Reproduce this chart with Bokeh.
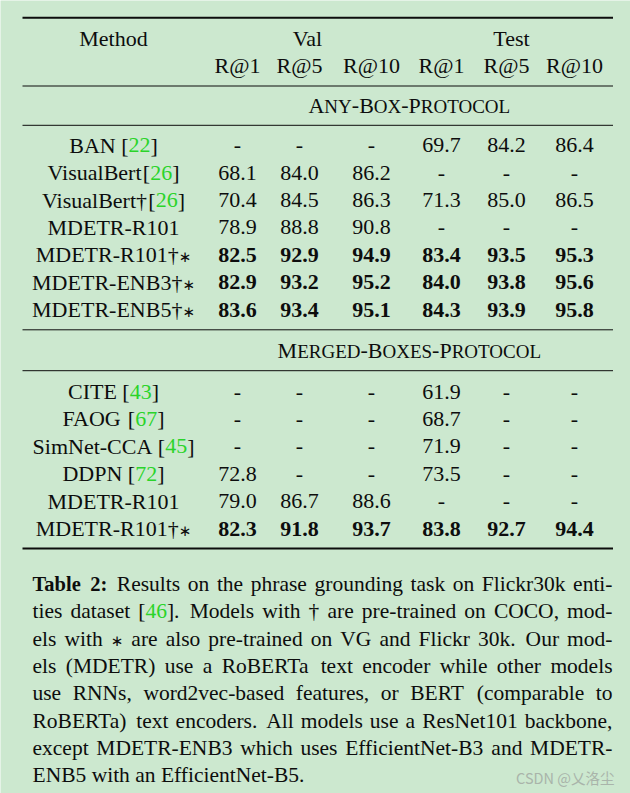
import re
from bokeh.plotting import figure
from bokeh.models import Range1d, ColumnDataSource
from bokeh.core.properties import value
from bokeh.embed import file_html
from bokeh.resources import INLINE

# ------------------------------------------------------------------ data
group_labels = ["Val", "Test"]
metric_labels = ["R@1", "R@5", "R@10", "R@1", "R@5", "R@10"]
section_titles = ["Any-Box-Protocol", "Merged-Boxes-Protocol"]

any_methods = ["BAN [22]", "VisualBert[26]", "VisualBert†[26]", "MDETR-R101",
               "MDETR-R101†∗", "MDETR-ENB3†∗", "MDETR-ENB5†∗"]
any_val_r1 = [None, 68.1, 70.4, 78.9, 82.5, 82.9, 83.6]
any_val_r5 = [None, 84.0, 84.5, 88.8, 92.9, 93.2, 93.4]
any_val_r10 = [None, 86.2, 86.3, 90.8, 94.9, 95.2, 95.1]
any_test_r1 = [69.7, None, 71.3, None, 83.4, 84.0, 84.3]
any_test_r5 = [84.2, None, 85.0, None, 93.5, 93.8, 93.9]
any_test_r10 = [86.4, None, 86.5, None, 95.3, 95.6, 95.8]
any_bold = [False, False, False, False, True, True, True]

merged_methods = ["CITE [43]", "FAOG [67]", "SimNet-CCA [45]", "DDPN [72]",
                  "MDETR-R101", "MDETR-R101†∗"]
merged_val_r1 = [None, None, None, 72.8, 79.0, 82.3]
merged_val_r5 = [None, None, None, None, 86.7, 91.8]
merged_val_r10 = [None, None, None, None, 88.6, 93.7]
merged_test_r1 = [61.9, 68.7, 71.9, 73.5, None, 83.8]
merged_test_r5 = [None, None, None, None, None, 92.7]
merged_test_r10 = [None, None, None, None, None, 94.4]
merged_bold = [False, False, False, False, False, True]

caption_lines = [
    "«Table» «2:» Results on the phrase grounding task on Flickr30k enti-",
    "ties dataset [{46}]. Models with † are pre-trained on COCO, mod-",
    "els with ∗ are also pre-trained on VG and Flickr 30k. Our mod-",
    "els (MDETR) use a RoBERTa text encoder while other models",
    "use RNNs, word2vec-based features, or BERT (comparable to",
    "RoBERTa) text encoders. All models use a ResNet101 backbone,",
    "except MDETR-ENB3 which uses EfficientNet-B3 and MDETR-",
    "ENB5 with an EfficientNet-B5.",
]
watermark = "CSDN @乂洛尘"

# ------------------------------------------------------------------ style
BG = "#cce8cf"
INK = "#0d0d0d"
REF = "#2ad42a"
SERIF = "Liberation Serif"
SYM = "DejaVu Sans"
FS = 22          # table font size
SC = 19          # small caps size
CFS = 21.5       # caption font size
BFS = 20.5       # caption bold label size
SYM_FS = 15
K_MID = 0.33     # baseline -> middle offset (fraction of font size)

# Times-Roman advance widths (1/1000 em)
TR = {" ": 250, "!": 333, "(": 333, ")": 333, "*": 500, "+": 564, ",": 250,
      "-": 333, ".": 250, "/": 278, ":": 278, ";": 278, "?": 444, "@": 921,
      "[": 333, "]": 333, "†": 500,
      "A": 722, "B": 667, "C": 667, "D": 722, "E": 611, "F": 556, "G": 722,
      "H": 722, "I": 333, "J": 389, "K": 722, "L": 611, "M": 889, "N": 722,
      "O": 722, "P": 556, "Q": 722, "R": 667, "S": 556, "T": 611, "U": 722,
      "V": 722, "W": 944, "X": 722, "Y": 722, "Z": 611,
      "a": 444, "b": 500, "c": 444, "d": 500, "e": 444, "f": 333, "g": 500,
      "h": 500, "i": 278, "j": 278, "k": 500, "l": 278, "m": 778, "n": 500,
      "o": 500, "p": 500, "q": 500, "r": 333, "s": 389, "t": 278, "u": 500,
      "v": 500, "w": 722, "x": 500, "y": 500, "z": 444}
for d in "0123456789":
    TR[d] = 500
TB = dict(TR)
TB.update({":": 333, "T": 667, "a": 500, "b": 556, "l": 278, "e": 444})


def text_width(t, size, bold=False, font=SERIF):
    if font == SYM:
        return sum(838 for _ in t) * size / 1000.0
    tab = TB if bold else TR
    return sum(tab.get(ch, 500) for ch in t) * size / 1000.0


# ------------------------------------------------------------------ figure
W, H = 630, 793
p = figure(width=W, height=H, x_range=Range1d(0, W), y_range=Range1d(H, 0),
           output_backend="svg", toolbar_location=None, min_border=0,
           x_axis_location=None, y_axis_location=None)
p.grid.visible = False
p.outline_line_color = None
p.background_fill_color = BG
p.border_fill_color = BG

records = []


def add(x, base, t, size, bold=False, color=INK, font=SERIF, align="left"):
    records.append(dict(x=x, y=base - K_MID * size, text=t, size=size, bold=bold,
                        color=color, font=font, align=align))


def draw_segs(segs, x, y):
    for (t, size, bold, color, font) in segs:
        add(x, y, t, size, bold, color, font, "left")
        x += text_width(t, size, bold, font)


def segs_width(segs):
    return sum(text_width(t, s, b, f) for (t, s, b, c, f) in segs)


def method_segs(name, size):
    segs = []
    for tok in re.split(r"(\[\d+\]|∗)", name):
        if not tok:
            continue
        if tok == "∗":
            segs.append((tok, SYM_FS, False, INK, SYM))
        elif tok.startswith("["):
            segs += [("[", size, False, INK, SERIF), (tok[1:-1], size, False, REF, SERIF),
                     ("]", size, False, INK, SERIF)]
        else:
            segs.append((tok, size, False, INK, SERIF))
    return segs


def smallcaps_segs(title):
    segs = []
    for part in re.split(r"(-)", title):
        if not part:
            continue
        if part == "-":
            segs.append(("-", FS, False, INK, SERIF))
        else:
            segs.append((part[0].upper(), FS, False, INK, SERIF))
            if len(part) > 1:
                segs.append((part[1:].upper(), SC, False, INK, SERIF))
    return segs


# layout positions (page pixels)
RULE_L, RULE_R = 22, 612.5
METHOD_X = 113
COL_X = [237, 299, 371, 441, 506, 574]
GROUP_X = [307, 511]
SECTION_X = 409
ROW_STEP = 27.4

# rules
thick_rules = [17.2, 548]
thin_rules = [85.5, 124.8, 329.3, 370.2]
p.segment(x0=RULE_L, x1=RULE_R, y0=thick_rules, y1=thick_rules, line_color=INK, line_width=2)
p.segment(x0=RULE_L, x1=RULE_R, y0=thin_rules, y1=thin_rules, line_color=INK, line_width=1)

# header
add(METHOD_X, 45, "Method", FS, align="center")
for gx, lab in zip(GROUP_X, group_labels):
    add(gx, 45, lab, FS, align="center")
for cx, lab in zip(COL_X, metric_labels):
    add(cx, 72.5, lab, FS, align="center")


def fmt(v):
    return "-" if v is None else f"{v:.1f}"


def draw_section(title, title_y, first_base, methods, cols, bold):
    ts = smallcaps_segs(title)
    draw_segs(ts, SECTION_X - segs_width(ts) / 2, title_y)
    for i, name in enumerate(methods):
        y = first_base + i * ROW_STEP
        ms = method_segs(name, FS)
        draw_segs(ms, METHOD_X - segs_width(ms) / 2, y)
        for cx, col in zip(COL_X, cols):
            add(cx, y, fmt(col[i]), FS, bold=bold[i] and col[i] is not None, align="center")


draw_section(section_titles[0], 112, 152,
             any_methods,
             [any_val_r1, any_val_r5, any_val_r10, any_test_r1, any_test_r5, any_test_r10],
             any_bold)
draw_section(section_titles[1], 357, 398.3,
             merged_methods,
             [merged_val_r1, merged_val_r5, merged_val_r10, merged_test_r1, merged_test_r5,
              merged_test_r10],
             merged_bold)

# caption (justified)
CAP_L, CAP_R = 32, 612
CAP_BASE, CAP_STEP = 590.7, 27.3


def word_segs(word):
    segs = []
    bold = False
    if word.startswith("«") and word.endswith("»"):
        word = word[1:-1]
        bold = True
    size = BFS if bold else CFS
    for tok in re.split(r"(\{[^}]*\}|∗)", word):
        if not tok:
            continue
        if tok == "∗":
            segs.append((tok, SYM_FS, False, INK, SYM))
        elif tok.startswith("{"):
            segs.append((tok[1:-1], size, bold, REF, SERIF))
        else:
            segs.append((tok, size, bold, INK, SERIF))
    return segs


for li, line in enumerate(caption_lines):
    words = line.split(" ")
    wsegs = [word_segs(w) for w in words]
    widths = [segs_width(s) for s in wsegs]
    weights = [1.25 if words[k].rstrip("»").endswith((".", ":")) and k > 0 else 1.0
               for k in range(len(words) - 1)]
    y = CAP_BASE + li * CAP_STEP
    if li < len(caption_lines) - 1:
        unit = (CAP_R - CAP_L - sum(widths)) / sum(weights)
    else:
        unit = 0.25 * CFS
    x = CAP_L
    for k, s in enumerate(wsegs):
        draw_segs(s, x, y)
        if k < len(weights):
            x += widths[k] + unit * weights[k]

# watermark
add(614, 782, watermark, 14.5, color="#a9b4aa", font="Noto Sans CJK SC", align="right")

# emit text glyphs grouped by style
groups = {}
for r in records:
    key = (r["size"], r["bold"], r["font"], r["align"])
    g = groups.setdefault(key, dict(x=[], y=[], text=[], color=[]))
    g["x"].append(r["x"])
    g["y"].append(r["y"])
    g["text"].append(r["text"])
    g["color"].append(r["color"])

for (size, bold, font, align), g in groups.items():
    p.text(x="x", y="y", text="text", text_color="color", source=ColumnDataSource(g),
           text_font=value(font), text_font_size=value(f"{size}px"),
           text_font_style="bold" if bold else "normal",
           text_align=align, text_baseline="middle")

html = file_html(p, INLINE)
html = html.replace("<body>", f'<body style="background-color:{BG};">', 1)
open("out.html", "w").write(html)
